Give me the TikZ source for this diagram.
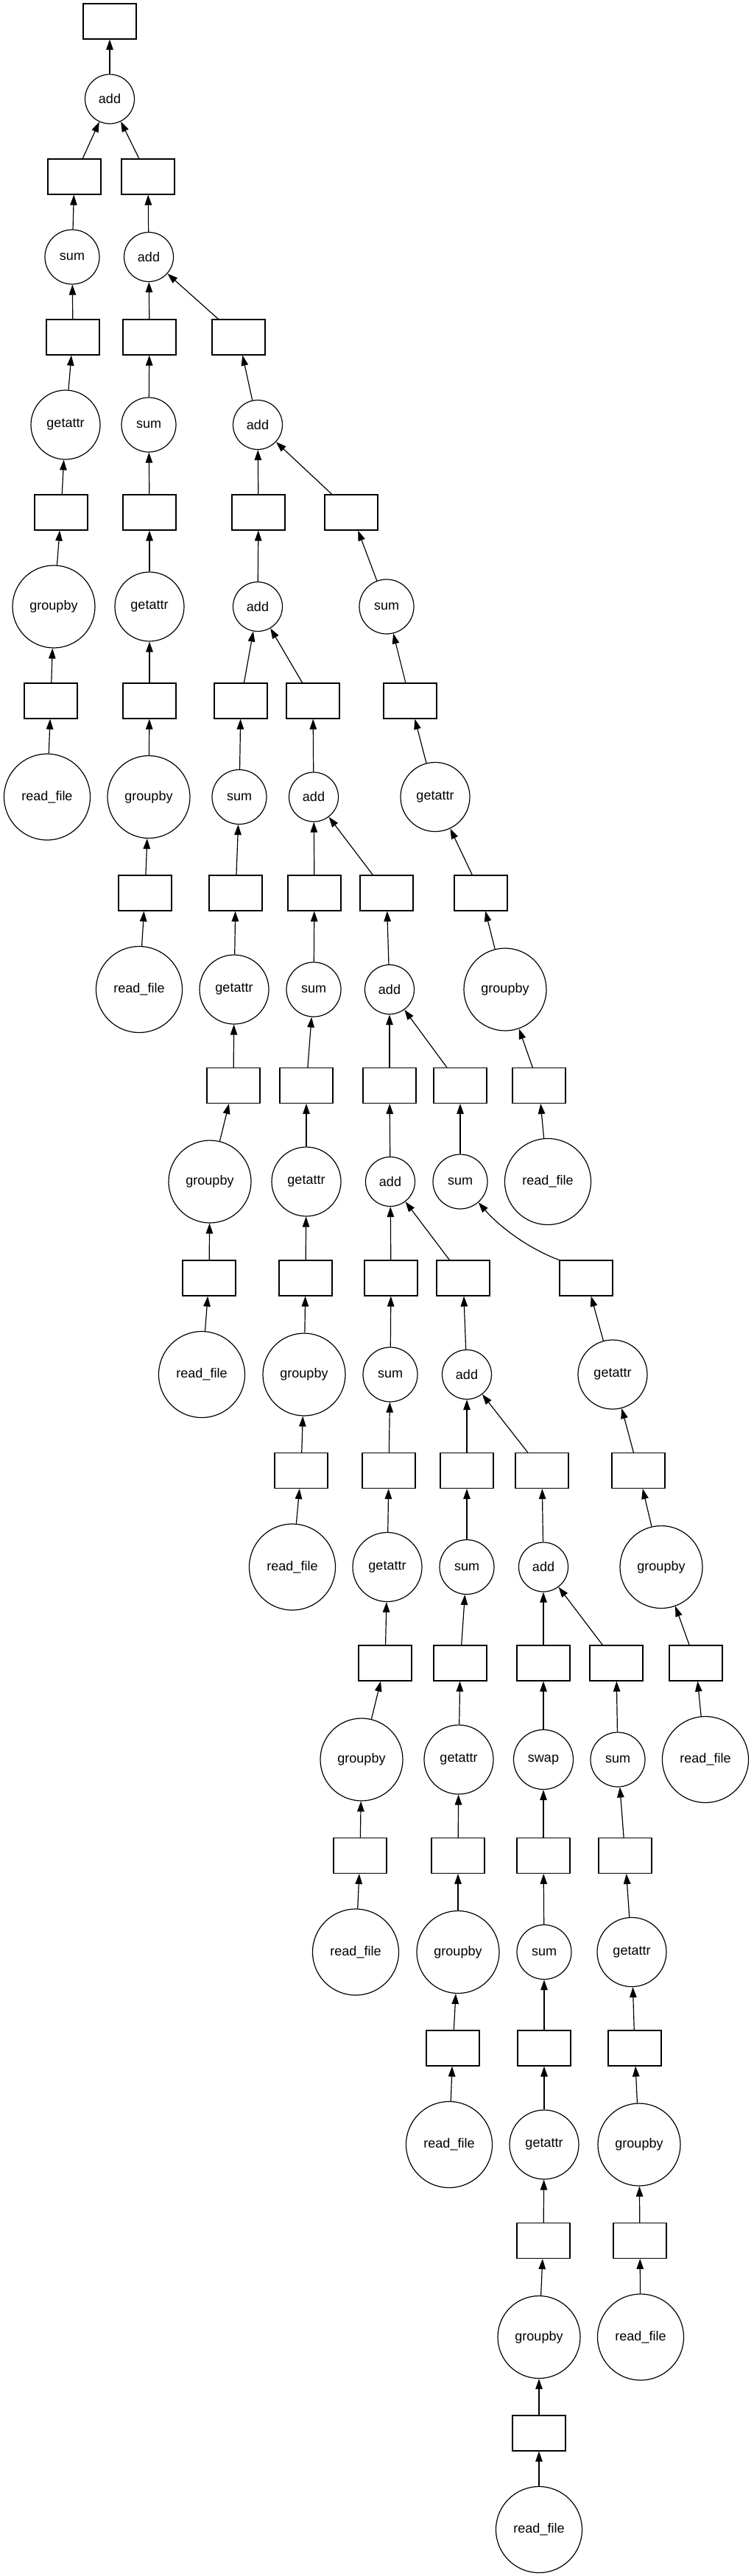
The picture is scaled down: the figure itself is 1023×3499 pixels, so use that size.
\documentclass[tikz,border=0pt]{standalone}
\usepackage{fontspec}
\setmainfont{Liberation Sans}
\usetikzlibrary{arrows.meta}
\tikzset{
    task/.style={draw,line width=1.2pt,minimum width=72pt,minimum height=48pt,inner sep=0pt},
    func/.style={draw,circle,line width=1.2pt,inner sep=0pt,font=\fontsize{18pt}{20pt}\selectfont},
    fadd/.style={func,minimum size=67pt},
    fsum/.style={func,minimum size=74pt},
    fswap/.style={func,minimum size=81pt},
    fget/.style={func,minimum size=94pt},
    fgrp/.style={func,minimum size=112pt},
    fread/.style={func,minimum size=117pt},
    edge/.style={line width=1.2pt,-{Triangle[length=14pt,width=9.5pt]}},
}
\newcommand\TaskBox[3]{\node[task] (#1) at (#2,#3) {};}

\begin{document}
\begin{tikzpicture}[x=1pt,y=-1pt]
    \useasboundingbox (0,0) rectangle (1023,3499);
    % the add spine
    \TaskBox{out}{149}{29}
    \node[fadd] (ad1) at (149,134.5) {add};
    \TaskBox{a2}{201}{240}
    \node[fadd] (ad2) at (202,349) {add};
    \TaskBox{a3}{324}{458}
    \node[fadd] (ad3) at (350,577) {add};
    \TaskBox{a4}{351}{696}
    \node[fadd] (ad4) at (350,824) {add};
    \TaskBox{a5}{425}{952}
    \node[fadd] (ad5) at (426,1082.5) {add};
    \TaskBox{a6}{525}{1213}
    \node[fadd] (ad6) at (529,1344) {add};
    \TaskBox{a7}{529}{1474.5}
    \node[fadd] (ad7) at (530,1605) {add};
    \TaskBox{a8}{629}{1736}
    \node[fadd] (ad8) at (634,1867) {add};
    \TaskBox{a9}{736}{1997.5}
    \node[fadd] (ad9) at (738,2128.5) {add};
    % chain 0
    \TaskBox{b0-4}{101}{240}
    \node[fsum] (sm0) at (98,349) {sum};
    \TaskBox{b0-3}{99}{458}
    \node[fget] (ga0) at (89,577) {getattr};
    \TaskBox{b0-2}{83}{696}
    \node[fgrp] (gb0) at (73,824) {groupby};
    \TaskBox{b0-1}{69}{952}
    \node[fread] (rf0) at (64,1082.5) {read\_file};
    % chain 1
    \TaskBox{b1-4}{203}{458}
    \node[fsum] (sm1) at (202,577) {sum};
    \TaskBox{b1-3}{203}{696}
    \node[fget] (ga1) at (203,824) {getattr};
    \TaskBox{b1-2}{203}{952}
    \node[fgrp] (gb1) at (202,1082.5) {groupby};
    \TaskBox{b1-1}{197}{1213}
    \node[fread] (rf1) at (189,1344) {read\_file};
    % chain 2
    \TaskBox{b2-4}{477}{696}
    \node[fsum] (sm2) at (525,824) {sum};
    \TaskBox{b2-3}{557}{952}
    \node[fget] (ga2) at (591,1082.5) {getattr};
    \TaskBox{b2-2}{653}{1213}
    \node[fgrp] (gb2) at (686,1344) {groupby};
    \TaskBox{b2-1}{732}{1474.5}
    \node[fread] (rf2) at (744,1605) {read\_file};
    % chain 3
    \TaskBox{b3-4}{327}{952}
    \node[fsum] (sm3) at (325,1082.5) {sum};
    \TaskBox{b3-3}{320}{1213}
    \node[fget] (ga3) at (318,1344) {getattr};
    \TaskBox{b3-2}{317}{1474.5}
    \node[fgrp] (gb3) at (285,1605) {groupby};
    \TaskBox{b3-1}{284}{1736}
    \node[fread] (rf3) at (274,1867) {read\_file};
    % chain 4
    \TaskBox{b4-4}{427}{1213}
    \node[fsum] (sm4) at (426,1344) {sum};
    \TaskBox{b4-3}{416}{1474.5}
    \node[fget] (ga4) at (416,1605) {getattr};
    \TaskBox{b4-2}{415}{1736}
    \node[fgrp] (gb4) at (413,1867) {groupby};
    \TaskBox{b4-1}{409}{1997.5}
    \node[fread] (rf4) at (397,2128.5) {read\_file};
    % chain 5
    \TaskBox{b5-4}{625}{1474.5}
    \node[fsum] (sm5) at (625,1605) {sum};
    \TaskBox{b5-3}{796}{1736}
    \node[fget] (ga5) at (832,1867) {getattr};
    \TaskBox{b5-2}{867}{1997.5}
    \node[fgrp] (gb5) at (898,2128.5) {groupby};
    \TaskBox{b5-1}{945}{2259}
    \node[fread] (rf5) at (958,2390) {read\_file};
    % chain 6
    \TaskBox{b6-4}{531}{1736}
    \node[fsum] (sm6) at (530,1867) {sum};
    \TaskBox{b6-3}{528}{1997.5}
    \node[fget] (ga6) at (526,2128.5) {getattr};
    \TaskBox{b6-2}{523}{2259}
    \node[fgrp] (gb6) at (491,2390) {groupby};
    \TaskBox{b6-1}{489}{2520.5}
    \node[fread] (rf6) at (483,2651.5) {read\_file};
    % chain 7
    \TaskBox{b7-4}{634}{1997.5}
    \node[fsum] (sm7) at (634,2128.5) {sum};
    \TaskBox{b7-3}{625}{2259}
    \node[fget] (ga7) at (623,2390) {getattr};
    \TaskBox{b7-2}{622}{2520.5}
    \node[fgrp] (gb7) at (622,2651.5) {groupby};
    \TaskBox{b7-1}{615}{2782}
    \node[fread] (rf7) at (610,2913) {read\_file};
    % chain 8, with swap
    \TaskBox{b8-5}{738}{2259}
    \node[fswap] (sw8) at (738,2390) {swap};
    \TaskBox{b8-4}{738}{2520.5}
    \node[fsum] (sm8) at (739,2651.5) {sum};
    \TaskBox{b8-3}{739}{2782}
    \node[fget] (ga8) at (739,2913) {getattr};
    \TaskBox{b8-2}{738}{3043.5}
    \node[fgrp] (gb8) at (732,3174.5) {groupby};
    \TaskBox{b8-1}{732}{3305}
    \node[fread] (rf8) at (732,3436) {read\_file};
    % chain 9
    \TaskBox{b9-4}{837}{2259}
    \node[fsum] (sm9) at (839,2390) {sum};
    \TaskBox{b9-3}{849}{2520.5}
    \node[fget] (ga9) at (858,2651.5) {getattr};
    \TaskBox{b9-2}{862}{2782}
    \node[fgrp] (gb9) at (868,2913) {groupby};
    \TaskBox{b9-1}{869}{3043.5}
    \node[fread] (rf9) at (870,3174.5) {read\_file};
    % edges
    \foreach \k in {0,...,9} {
        \draw[edge] (rf\k) -- (b\k-1);
        \draw[edge] (b\k-1) -- (gb\k);
        \draw[edge] (gb\k) -- (b\k-2);
        \draw[edge] (b\k-2) -- (ga\k);
        \draw[edge] (ga\k) -- (b\k-3);
        \draw[edge] (sm\k) -- (b\k-4);
    }
    \foreach \k in {0,1,2,3,4,6,7,8,9}
        \draw[edge] (b\k-3) -- (sm\k);
    \draw[edge] (b5-3.north west) .. controls (720,1697) and (680,1668) .. (sm5);
    \draw[edge] (b8-4) -- (sw8);
    \draw[edge] (sw8) -- (b8-5);
    \foreach \a/\b in {ad1/out, b0-4/ad1, a2/ad1, ad2/a2, b1-4/ad2, a3/ad2,
        ad3/a3, a4/ad3, b2-4/ad3, ad4/a4, b3-4/ad4, a5/ad4, ad5/a5, b4-4/ad5,
        a6/ad5, ad6/a6, a7/ad6, b5-4/ad6, ad7/a7, b6-4/ad7, a8/ad7, ad8/a8,
        b7-4/ad8, a9/ad8, ad9/a9, b8-5/ad9, b9-4/ad9}
        \draw[edge] (\a) -- (\b);
\end{tikzpicture}
\end{document}
